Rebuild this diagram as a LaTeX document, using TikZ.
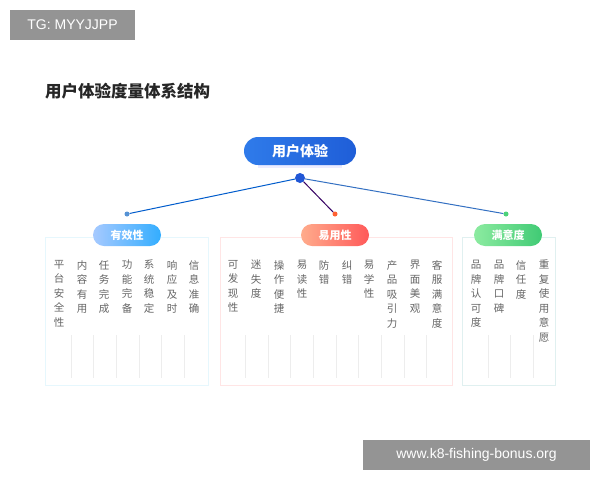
\documentclass[tikz,border=0pt]{standalone}
\usepackage{fontspec}
\setmainfont{Noto Sans CJK SC}
\newfontfamily\latinf{Liberation Sans}
\definecolor{rootA}{HTML}{2F7BEA}
\definecolor{rootB}{HTML}{1F5ED8}
\definecolor{hubc}{HTML}{2157D6}
\begin{document}
\begin{tikzpicture}[x=1pt,y=-1pt,
  item/.style={text=black!60,font=\fontsize{10.5}{14.5}\selectfont,align=center,anchor=north,inner sep=0pt},
  grp/.style={rounded corners=11pt,minimum width=68pt,minimum height=22pt,text=white,font=\fontsize{11}{12}\selectfont\bfseries,inner sep=0pt},
  frame/.style={draw=#1,line width=1pt},
  sep/.style={draw=black!7,line width=0.5pt},
  tag/.style={fill=black!42,text=white,font=\latinf\fontsize{14}{16}\selectfont,inner sep=0pt}]
\useasboundingbox (0,0) rectangle (600,480);
\fill[white] (0,0) rectangle (600,480);
\node[tag,minimum width=125pt,minimum height=30pt] (tg) at (72.5,25) {TG: MYYJJPP};
\node[tag,minimum width=227pt,minimum height=30pt] (wm) at (476.5,455) {www.k8-fishing-bonus.org};
\node[anchor=west,font=\fontsize{16.5}{18}\selectfont\bfseries,text=black!85,inner sep=0pt] (title) at (45,91) {用户体验度量体系结构};
% frames
\draw[frame=cyan!10] (45,237) rectangle (208,385);
\draw[frame=red!10] (220,237) rectangle (452,385);
\draw[frame=teal!12] (462,237) rectangle (555,385);
% root
\fill[blue!12,opacity=0.6] (258,162) rectangle (342,168);
\node[rounded corners=14pt,minimum width=112pt,minimum height=28pt,left color=rootA,right color=rootB,text=white,font=\fontsize{14}{16}\selectfont\bfseries,inner sep=0pt] (root) at (300,151) {用户体验};
\node[circle,fill=hubc,minimum size=10pt,inner sep=0pt] (hub) at (300,178) {};
\node[circle,fill=cyan!55!blue!70,minimum size=5pt,inner sep=0pt] (d1) at (127,214) {};
\node[circle,fill=red!55!orange!80,minimum size=5pt,inner sep=0pt] (d2) at (335,214) {};
\node[circle,fill=teal!50!green!70,minimum size=5pt,inner sep=0pt] (d3) at (506,214) {};
\draw[line width=1pt,blue!55!cyan!80!black] (hub) -- (d1);
\draw[line width=1pt,red!35!blue!60!black] (hub) -- (d2);
\draw[line width=1pt,teal!60!blue!80] (hub) -- (d3);
\node[grp,left color=cyan!40!blue!35,right color=cyan!60!blue!80] (g1) at (127,235) {有效性};
\node[grp,left color=orange!55!red!45,right color=red!65] (g2) at (335,235) {易用性};
\node[grp,left color=teal!35!green!45,right color=teal!55!green!75] (g3) at (508,235) {满意度};
% separators
\foreach \x in {71,93,116,139,161,184, 245,268,290,313,336,358,381,404,426, 488,510,533}
  \draw[sep] (\x,335) -- (\x,378);
% items
\foreach \x/\t in {59/平\\台\\安\\全\\性,82/内\\容\\有\\用,104/任\\务\\完\\成,127/功\\能\\完\\备,149/系\\统\\稳\\定,172/响\\应\\及\\时,194/信\\息\\准\\确,
  233/可\\发\\现\\性,256/迷\\失\\度,279/操\\作\\便\\捷,302/易\\读\\性,324/防\\错,347/纠\\错,369/易\\学\\性,392/产\\品\\吸\\引\\力,415/界\\面\\美\\观,437/客\\服\\满\\意\\度,
  476/品\\牌\\认\\可\\度,499/品\\牌\\口\\碑,521/信\\任\\度,544/重\\复\\使\\用\\意\\愿}
  \node[item] at (\x,260) {\t};
\end{tikzpicture}
\end{document}
